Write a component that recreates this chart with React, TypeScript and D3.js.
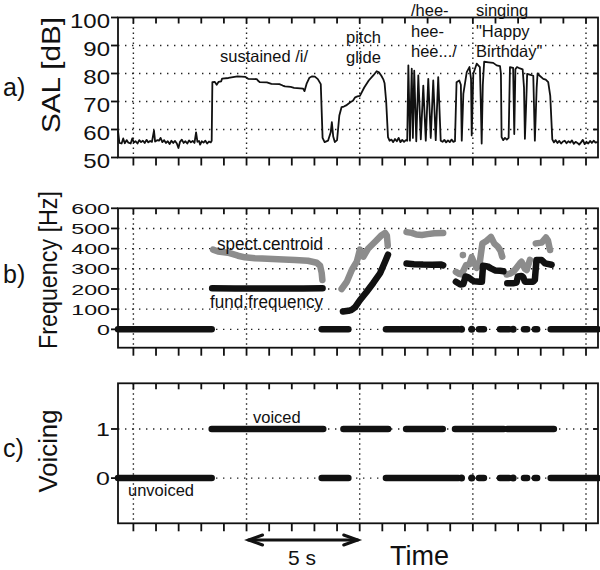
import React from "react";
import * as d3 from "d3";

const FONT = "'Liberation Sans', Arial, Helvetica, sans-serif";

// time axis in seconds (grid every 5 s, ticks every 1 s)
const timeDomain: [number, number] = [-0.68, 20.53];
const arrowSpan = [5, 10];

// a) SAL [dB], pairs of [time s, level dB]
const salQuietStart: [number, number][] = [
  [-0.68, 59.5], [-0.62, 55.2], [-0.52, 55.0], [-0.45, 56.8], [-0.38, 55.1], [-0.3, 56.2],
  [-0.22, 55.3], [-0.12, 55.0], [-0.05, 56.8], [0.02, 55.4], [0.1, 55.8], [0.18, 55.0],
  [0.26, 56.2], [0.34, 55.5], [0.42, 56.0], [0.5, 55.2], [0.58, 56.3], [0.66, 55.4],
  [0.74, 55.9], [0.82, 55.6], [0.91, 59.6], [0.96, 55.7], [1.05, 56.2], [1.13, 56.0],
  [1.2, 57.0], [1.28, 55.5], [1.36, 56.2], [1.44, 55.2], [1.52, 55.8], [1.6, 54.8],
  [1.68, 56.0], [1.76, 55.2], [1.84, 55.9], [1.92, 55.0], [1.99, 53.4], [2.06, 55.6],
  [2.14, 56.4], [2.22, 55.2], [2.3, 55.8], [2.38, 55.0], [2.46, 56.1], [2.54, 55.4],
  [2.62, 55.9], [2.7, 55.2], [2.77, 59.0], [2.83, 55.6], [2.9, 55.9], [2.95, 54.6],
  [3.02, 55.8], [3.1, 55.3], [3.18, 56.0], [3.26, 55.0], [3.34, 55.7], [3.42, 55.4],
];
const salSustained: [number, number][] = [
  [3.46, 56.0], [3.49, 76.9], [3.6, 77.0], [3.68, 76.0], [3.76, 77.0], [3.88, 77.2],
  [3.92, 78.2], [4.2, 78.4], [4.4, 78.7], [4.6, 79.0], [4.95, 78.8], [5.07, 78.1],
  [5.45, 78.0], [5.5, 77.5], [5.58, 76.9], [5.9, 76.8], [6.1, 76.3], [6.45, 76.2],
  [6.6, 75.7], [6.7, 75.4], [6.95, 75.2], [7.1, 74.9], [7.5, 74.6], [7.56, 73.7],
  [7.66, 76.5], [7.78, 78.5], [7.9, 79.0], [8.02, 78.9], [8.15, 78.0], [8.28, 76.2],
  [8.36, 57.0], [8.45, 55.5], [8.6, 56.0], [8.72, 59.0], [8.77, 62.6], [8.83, 57.5],
  [8.9, 55.5], [9.0, 56.2], [9.1, 65.0], [9.2, 68.0], [9.3, 68.2], [9.4, 68.6],
  [9.5, 69.2], [9.6, 69.8], [9.7, 70.3], [9.8, 71.5],
];
const salGlide: [number, number][] = [
  [9.9, 71.8], [10.01, 72.0], [10.2, 75.0], [10.4, 77.5], [10.6, 79.3], [10.75, 80.8],
  [10.85, 80.4], [10.95, 79.3], [11.05, 77.8], [11.1, 76.5], [11.17, 70.0], [11.25, 57.3],
  [11.32, 56.0], [11.4, 56.4], [11.48, 55.5], [11.56, 56.6], [11.64, 55.8], [11.72, 57.0],
  [11.8, 55.5], [11.88, 56.3], [11.96, 55.6], [12.04, 56.2], [12.1, 56.0],
];
const salHee: [number, number][] = [
  [12.15, 82.9], [12.22, 56.0], [12.3, 81.7], [12.35, 57.0], [12.41, 81.0], [12.5, 55.8],
  [12.59, 79.3], [12.7, 56.5], [12.81, 75.7], [12.92, 56.0], [13.03, 78.1], [13.14, 57.0],
  [13.25, 77.5], [13.36, 56.2], [13.47, 78.7], [13.58, 56.0], [13.66, 55.6], [13.74, 56.3],
  [13.82, 55.4], [13.9, 56.1], [13.98, 55.5], [14.06, 56.4], [14.14, 55.6], [14.21, 55.8],
];
const salSinging: [number, number][] = [
  [14.28, 76.9], [14.4, 77.5], [14.47, 76.0], [14.51, 56.0], [14.58, 72.7], [14.73, 80.5],
  [14.85, 82.3], [14.92, 78.0], [14.95, 57.9], [15.02, 79.9], [15.17, 83.5], [15.31, 82.3],
  [15.35, 70.0], [15.39, 55.0], [15.44, 76.0], [15.5, 84.2], [15.7, 84.0], [15.9, 83.8],
  [16.05, 82.9], [16.2, 82.6], [16.24, 80.0], [16.27, 57.3], [16.34, 56.2], [16.42, 57.0],
  [16.5, 56.4], [16.58, 57.0], [16.64, 82.3], [16.78, 82.0], [16.83, 58.4], [16.88, 81.5],
  [16.95, 82.3], [17.08, 81.8], [17.2, 81.5], [17.26, 75.0], [17.3, 56.7], [17.36, 70.0],
  [17.4, 79.9], [17.55, 79.5], [17.67, 79.2], [17.74, 56.0], [17.82, 75.0], [17.86, 80.0],
  [17.98, 79.0], [18.11, 78.1], [18.22, 77.8], [18.33, 76.9], [18.42, 72.0], [18.51, 56.5],
];
const salQuietEnd: [number, number][] = [
  [18.58, 55.4], [18.66, 56.2], [18.74, 55.2], [18.82, 55.9], [18.9, 55.0], [18.98, 55.7],
  [19.06, 56.0], [19.14, 55.1], [19.22, 55.8], [19.3, 55.3], [19.38, 56.1], [19.46, 54.9],
  [19.54, 55.6], [19.62, 55.2], [19.7, 54.6], [19.78, 55.4], [19.86, 56.3], [19.94, 54.8],
  [20.02, 55.6], [20.1, 55.0], [20.18, 55.9], [20.26, 55.2], [20.34, 56.0], [20.42, 55.3],
  [20.53, 55.6],
];

// b) spectral centroid [time s, Hz]
const centroidSustained: [number, number][] = [
  [3.52, 395], [3.74, 386], [4.18, 380], [4.62, 365], [4.93, 357], [5.37, 352], [5.69, 351],
  [6.39, 347], [7.14, 344], [7.71, 340], [8.1, 330], [8.25, 315], [8.32, 280], [8.35, 245],
];
const centroidGlide: [number, number][] = [
  [9.2, 200], [9.43, 236], [9.65, 294], [9.87, 335], [10.01, 395], [10.16, 360], [10.38, 401],
  [10.68, 434], [10.97, 467], [11.12, 478], [11.2, 465], [11.24, 415],
];
const centroidHee: [number, number][] = [
  [12.07, 482], [12.3, 478], [12.5, 470], [12.75, 468], [13.0, 472], [13.3, 476], [13.69, 478],
];
const centroidSing1: [number, number][] = [
  [14.25, 285], [14.4, 275], [14.5, 272], [14.7, 318], [14.85, 322], [14.95, 358], [15.05, 330],
  [15.17, 305], [15.31, 335], [15.42, 425], [15.6, 438], [15.8, 458], [15.95, 425], [16.1, 410],
  [16.22, 390], [16.3, 360],
];
const centroidOutlier: [number, number][] = [[14.56, 368]];
const centroidSing2: [number, number][] = [
  [16.49, 272], [16.64, 276], [16.78, 285], [16.93, 305], [17.08, 327], [17.15, 335], [17.3, 300],
  [17.38, 294], [17.52, 344],
];
const centroidSing3: [number, number][] = [
  [17.78, 426], [18.04, 430], [18.23, 455], [18.32, 440], [18.41, 393],
];

// b) fundamental frequency [time s, Hz]
const f0Sustained: [number, number][] = [
  [3.48, 204], [4.5, 203], [5.5, 202], [6.5, 202], [7.5, 203], [8.36, 204],
];
const f0Glide: [number, number][] = [
  [9.26, 88], [9.5, 92], [9.65, 97], [9.8, 110], [10.0, 143], [10.3, 185], [10.6, 230],
  [10.9, 278], [11.12, 335], [11.25, 370],
];
const f0Hee: [number, number][] = [
  [12.07, 326], [12.4, 323], [12.8, 321], [13.2, 320], [13.6, 321], [13.69, 317],
];
const f0Sing1: [number, number][] = [
  [14.25, 236], [14.45, 222], [14.58, 225], [14.68, 262], [14.8, 258], [14.95, 245], [15.05, 238],
  [15.3, 236], [15.4, 236], [15.45, 315], [15.65, 312], [15.8, 302], [15.98, 292], [16.2, 290],
  [16.35, 288],
];
const f0Sing2: [number, number][] = [
  [16.52, 228], [16.77, 228], [16.93, 232], [16.99, 262], [17.15, 265], [17.23, 258], [17.3, 236],
  [17.67, 236], [17.74, 245], [17.81, 344], [18.04, 344], [18.19, 327], [18.48, 320],
];

// c) voicing runs [start s, end s]
const voicedRuns: [number, number][] = [
  [3.46, 8.39], [9.28, 11.26], [12.05, 13.67], [14.21, 16.37], [16.52, 18.58],
];
const unvoicedRuns: [number, number][] = [
  [-0.68, 3.46], [8.32, 9.5], [11.16, 14.36], [14.5, 14.5], [14.95, 14.95], [15.27, 15.49],
  [16.2, 16.6], [16.78, 16.78], [17.26, 17.4], [17.74, 17.84], [18.44, 20.53],
];

const salTicks = [50, 60, 70, 80, 90, 100];
const salGrid = [60, 70, 80, 90];
const freqTicks = [0, 100, 200, 300, 400, 500, 600];
const freqGrid = [0, 100, 200, 300, 400, 500];
const voicingTicks = [0, 1];

const x = d3.scaleLinear().domain(timeDomain).range([118, 598]);
const yA = d3.scaleLinear().domain([50, 100]).range([157.5, 17.5]);
const yB = d3.scaleLinear().domain([-91, 600]).range([347.7, 208.3]);
const yC = d3.scaleLinear().domain([-0.92, 1.93]).range([523.3, 383.3]);

const GRAY = "#8c8c8c";

function Panel({ y, ticks, grid, fontSize, stretch, dy, children }: any) {
  const [x0, x1] = x.range();
  const [yb, yt] = y.range();
  const secTicks = x.ticks(20);
  const gridT = x.ticks(4);
  return (
    <g>
      {grid.map((v: number) => (
        <line key={"gy" + v} x1={x0} x2={x1} y1={y(v)} y2={y(v)} stroke="#222"
          strokeWidth={1.4} strokeDasharray="1.4 5.6" />
      ))}
      {gridT.map((t) => (
        <line key={"gx" + t} x1={x(t)} x2={x(t)} y1={yt} y2={yb} stroke="#222"
          strokeWidth={1.4} strokeDasharray="1.4 3.6" />
      ))}
      {children}
      <rect x={x0} y={yt} width={x1 - x0} height={yb - yt} fill="none" stroke="#111" strokeWidth={1.8} />
      {secTicks.map((t) => (
        <g key={"t" + t} stroke="#111" strokeWidth={1.8}>
          <line x1={x(t)} x2={x(t)} y1={yt} y2={yt + 6} />
          <line x1={x(t)} x2={x(t)} y1={yb} y2={yb + 8} />
        </g>
      ))}
      {grid.map((v: number) => (
        <line key={"r" + v} x1={x1 - 5} x2={x1} y1={y(v)} y2={y(v)} stroke="#111" strokeWidth={1.8} />
      ))}
      {ticks.map((v: number) => (
        <g key={"l" + v}>
          <line x1={x0 - 7} x2={x0} y1={y(v)} y2={y(v)} stroke="#111" strokeWidth={1.8} />
          <text transform={`translate(${x0 - 8},${y(v)}) scale(${stretch},1)`} textAnchor="end"
            dy={dy} fontSize={fontSize} fontFamily={FONT} fill="#111">{v}</text>
        </g>
      ))}
    </g>
  );
}

function Track({ pts, y, color }: { pts: [number, number][]; y: any; color: string }) {
  if (pts.length === 1) {
    return <circle cx={x(pts[0][0])} cy={y(pts[0][1])} r={3.3} fill={color} />;
  }
  const line = d3.line<[number, number]>().x((d) => x(d[0])).y((d) => y(d[1]));
  return <path d={line(pts) || ""} fill="none" stroke={color} strokeWidth={6.5}
    strokeLinecap="round" strokeLinejoin="round" />;
}

function Runs({ runs, value, y }: { runs: [number, number][]; value: number; y: any }) {
  return (
    <g>
      {runs.map(([a, b], i) =>
        a === b ? (
          <circle key={i} cx={x(a)} cy={y(value)} r={3.5} fill="#111" />
        ) : (
          <line key={i} x1={x(a)} x2={x(b)} y1={y(value)} y2={y(value)} stroke="#111"
            strokeWidth={6.5} strokeLinecap="round" />
        )
      )}
    </g>
  );
}

function Label({ x: lx, y: ly, size, children, anchor = "start", rotate = false, length }: any) {
  return (
    <text x={rotate ? 0 : lx} y={rotate ? 0 : ly}
      transform={rotate ? `translate(${lx},${ly}) rotate(-90)` : undefined}
      textAnchor={anchor} fontSize={size} fontFamily={FONT} fill="#111"
      textLength={length} lengthAdjust={length ? "spacingAndGlyphs" : undefined}>
      {children}
    </text>
  );
}

export default function App() {
  const sal = [...salQuietStart, ...salSustained, ...salGlide, ...salHee, ...salSinging, ...salQuietEnd];
  const salLine = d3.line<[number, number]>().x((d) => x(d[0])).y((d) => yA(d[1]));
  const centroid = [centroidSustained, centroidGlide, centroidHee, centroidSing1, centroidOutlier, centroidSing2, centroidSing3];
  const f0 = [f0Sustained, f0Glide, f0Hee, f0Sing1, f0Sing2];
  const ay = 540;
  const ax0 = x(arrowSpan[0]) + 2;
  const ax1 = x(arrowSpan[1]) - 2;

  return (
    <svg width={600} height={570} style={{ position: "absolute", left: 0, top: 0, background: "#fff" }}>
      {/* a) SAL */}
      <Panel y={yA} ticks={salTicks} grid={salGrid} fontSize={20} stretch={1.2} dy="0.5em">
        <path d={salLine(sal) || ""} fill="none" stroke="#111" strokeWidth={1.8} strokeLinejoin="round" />
      </Panel>
      <Label x={3} y={96} size={25}>a)</Label>
      <Label x={60} y={75} size={26} anchor="middle" rotate length={116}>SAL [dB]</Label>
      <Label x={220} y={62} size={16.5}>sustained /i/</Label>
      <Label x={346} y={43} size={16.5}>pitch</Label>
      <Label x={346} y={63} size={16.5}>glide</Label>
      <Label x={411} y={16} size={16.5}>/hee-</Label>
      <Label x={411} y={37} size={16.5}>hee-</Label>
      <Label x={411} y={57} size={16.5}>hee.../</Label>
      <Label x={476} y={16} size={16.5}>singing</Label>
      <Label x={476} y={37} size={16.5}>"Happy</Label>
      <Label x={476} y={57} size={16.5}>Birthday"</Label>

      {/* b) Frequency */}
      <Panel y={yB} ticks={freqTicks} grid={freqGrid} fontSize={15.5} stretch={1.5} dy="0.36em">
        <Runs runs={unvoicedRuns} value={0} y={yB} />
        {centroid.map((s, i) => <Track key={"c" + i} pts={s} y={yB} color={GRAY} />)}
        {f0.map((s, i) => <Track key={"f" + i} pts={s} y={yB} color="#111" />)}
      </Panel>
      <Label x={3} y={283} size={25}>b)</Label>
      <Label x={57} y={270} size={25} anchor="middle" rotate length={158}>Frequency [Hz]</Label>
      <Label x={217} y={250} size={18} length={106}>spect.centroid</Label>
      <Label x={210} y={308} size={18} length={113}>fund.frequency</Label>

      {/* c) Voicing */}
      <Panel y={yC} ticks={voicingTicks} grid={voicingTicks} fontSize={18.5} stretch={1.35} dy="0.36em">
        <Runs runs={voicedRuns} value={1} y={yC} />
        <Runs runs={unvoicedRuns} value={0} y={yC} />
      </Panel>
      <Label x={3} y={457} size={25}>c)</Label>
      <Label x={57} y={451} size={25} anchor="middle" rotate length={83}>Voicing</Label>
      <Label x={253} y={423} size={16.5}>voiced</Label>
      <Label x={128} y={496} size={16.5}>unvoiced</Label>

      {/* time scale arrow */}
      <g stroke="#111" strokeWidth={3} fill="none" strokeLinecap="round">
        <line x1={ax0} x2={ax1} y1={ay} y2={ay} />
        <polyline points={`${ax0 + 14},${ay - 5} ${ax0},${ay} ${ax0 + 14},${ay + 5}`} />
        <polyline points={`${ax1 - 14},${ay - 5} ${ax1},${ay} ${ax1 - 14},${ay + 5}`} />
      </g>
      <Label x={288} y={565} size={21}>5 s</Label>
      <Label x={390} y={565} size={27}>Time</Label>
    </svg>
  );
}
